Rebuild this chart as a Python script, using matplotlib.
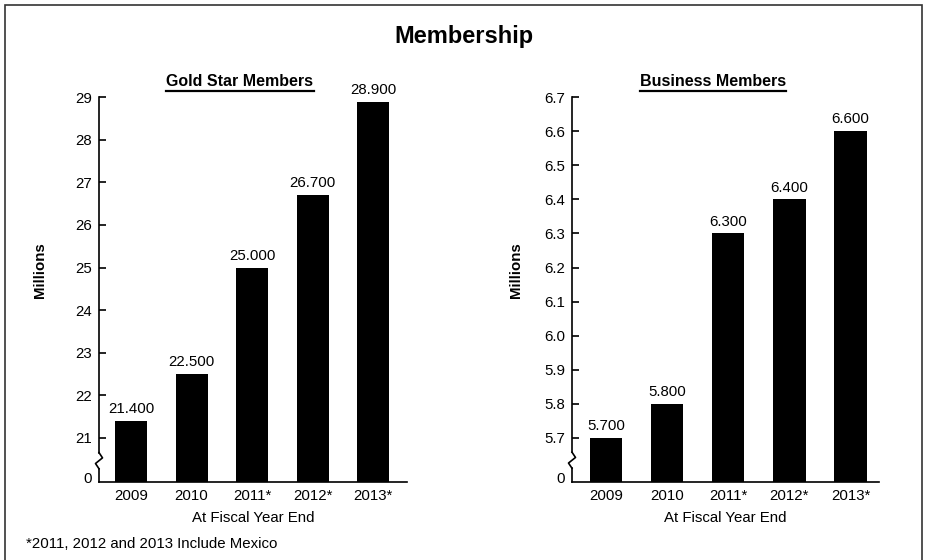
import matplotlib
matplotlib.use("Agg")
import matplotlib.pyplot as plt
from matplotlib.lines import Line2D
from matplotlib.patches import Rectangle

plt.rcParams['font.family'] = ['Liberation Sans', 'DejaVu Sans']

# ---- data -------------------------------------------------------------
years = ["2009", "2010", "2011*", "2012*", "2013*"]
gold_star = [21.4, 22.5, 25.0, 26.7, 28.9]
business = [5.7, 5.8, 6.3, 6.4, 6.6]
gold_ticks = [21, 22, 23, 24, 25, 26, 27, 28, 29]
gold_tick_labels = ["21", "22", "23", "24", "25", "26", "27", "28", "29"]
business_ticks = [5.7, 5.8, 5.9, 6.0, 6.1, 6.2, 6.3, 6.4, 6.5, 6.6, 6.7]
business_tick_labels = ["5.7", "5.8", "5.9", "6.0", "6.1", "6.2", "6.3",
                        "6.4", "6.5", "6.6", "6.7"]

W, H = 927, 560
fig = plt.figure(figsize=(W / 100, H / 100), dpi=100)

LW = 1.2
FS = 10.8


def fx(px):
    return px / W


def fy(py):
    return 1 - py / H


def px_axes(x0, x1, y_top, y_bot):
    return fig.add_axes([x0 / W, 1 - y_bot / H, (x1 - x0) / W, (y_bot - y_top) / H])


def panel(box, values, ticks, tick_labels, ylim, zero_pos, brk, brk_half, xlim):
    ax = px_axes(*box)
    ax_w = box[1] - box[0]
    x = list(range(len(values)))
    base = ylim[0]
    ax.bar(x, [v - base for v in values], bottom=base, width=0.53,
           color="black", zorder=3)
    for xi, v in zip(x, values):
        ax.annotate(f"{v:.3f}", (xi, v), xytext=(0, 3.5),
                    textcoords="offset points", ha="center", va="bottom",
                    fontsize=FS)
    ax.set_xlim(*xlim)
    ax.set_ylim(*ylim)
    ax.set_xticks(x)
    ax.set_xticklabels(years, fontsize=FS)
    ax.tick_params(axis="x", length=0, pad=5)
    ax.set_yticks([zero_pos] + ticks)
    ax.set_yticklabels(["0"] + tick_labels, fontsize=FS)
    ax.tick_params(axis="y", direction="in", length=5, width=LW, pad=5)
    ax.yaxis.get_major_ticks()[0].tick1line.set_visible(False)
    for s in ("top", "right", "left"):
        ax.spines[s].set_visible(False)
    ax.spines["bottom"].set_linewidth(LW)

    # left spine with a break zig-zag
    tr = ax.get_yaxis_transform()
    d = 3.5 / ax_w
    ax.add_line(Line2D([0, 0], [ylim[0], brk - brk_half], transform=tr,
                       color="black", lw=LW, clip_on=False, zorder=4))
    ax.add_line(Line2D([0, 0], [brk + brk_half, ylim[1]], transform=tr,
                       color="black", lw=LW, clip_on=False, zorder=4))
    ax.add_line(Line2D([0, d, -d, 0],
                       [brk + brk_half, brk + brk_half * 0.35,
                        brk - brk_half * 0.35, brk - brk_half],
                       transform=tr, color="black", lw=LW, clip_on=False,
                       zorder=4))
    return ax


ax1 = panel((99, 407, 97.3, 481.7), gold_star, gold_ticks, gold_tick_labels,
            (19.966, 29.0), 20.07, 20.46, 0.19, (-0.53, 4.56))
ax2 = panel((572, 879, 97.3, 481.7), business, business_ticks,
            business_tick_labels, (5.571, 6.7), 5.583, 5.634, 0.0235,
            (-0.556, 4.466))

# axis labels placed in figure coordinates
fig.text(fx(40), fy(270), "Millions", rotation=90, ha="center", va="center",
         fontsize=FS, fontweight="bold")
fig.text(fx(516), fy(270), "Millions", rotation=90, ha="center", va="center",
         fontsize=FS, fontweight="bold")
fig.text(fx(253), fy(518), "At Fiscal Year End", ha="center", va="center",
         fontsize=FS)
fig.text(fx(725), fy(518), "At Fiscal Year End", ha="center", va="center",
         fontsize=FS)
fig.text(fx(26), fy(544), "*2011, 2012 and 2013 Include Mexico",
         ha="left", va="center", fontsize=FS)

fig.text(fx(464), fy(37), "Membership", ha="center", va="center",
         fontsize=17, fontweight="bold")
subtitles = [
    fig.text(fx(240), fy(82), "Gold Star Members", ha="center", va="center",
             fontsize=11.5, fontweight="bold"),
    fig.text(fx(713), fy(82), "Business Members", ha="center", va="center",
             fontsize=11.5, fontweight="bold"),
]

# underline the panel subtitles
fig.canvas.draw()
renderer = fig.canvas.get_renderer()
for t in subtitles:
    bb = t.get_window_extent(renderer)
    y = (bb.y0 - 1.5) / H
    fig.add_artist(Line2D([bb.x0 / W, bb.x1 / W], [y, y], color="black",
                          lw=1.6, transform=fig.transFigure))

# outer frame
fig.add_artist(Rectangle((fx(5), fy(575)), (922 - 5) / W, (575 - 5) / H,
                         transform=fig.transFigure, fill=False,
                         edgecolor="#333333", lw=1.2, clip_on=False))

fig.savefig("out.png", dpi=100)
